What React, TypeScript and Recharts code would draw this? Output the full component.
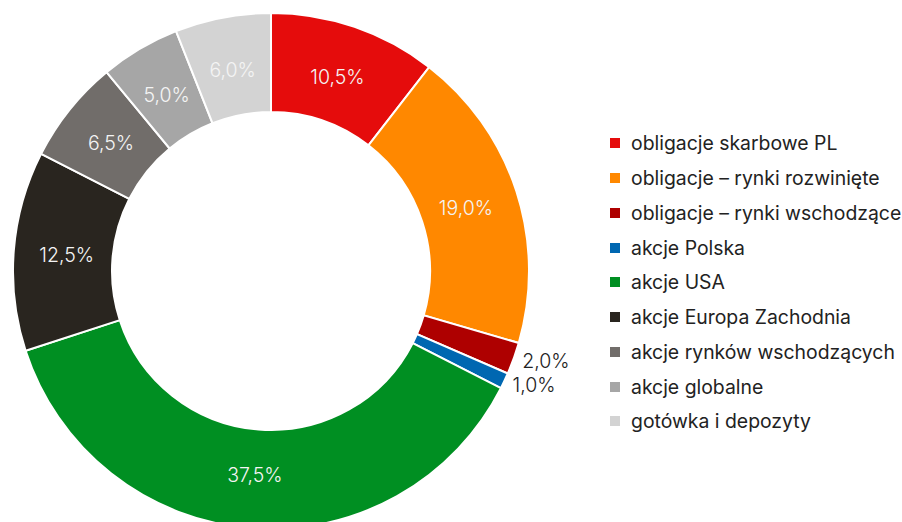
import React from "react";
import { PieChart, Pie, Cell } from "recharts";

const categories = [
  "obligacje skarbowe PL",
  "obligacje – rynki rozwinięte",
  "obligacje – rynki wschodzące",
  "akcje Polska",
  "akcje USA",
  "akcje Europa Zachodnia",
  "akcje rynków wschodzących",
  "akcje globalne",
  "gotówka i depozyty",
];
const shares = [10.5, 19.0, 2.0, 1.0, 37.5, 12.5, 6.5, 5.0, 6.0];
const colors = [
  "#E50C0C",
  "#FF8800",
  "#AE0000",
  "#0067B1",
  "#008F22",
  "#29251F",
  "#716D6A",
  "#A6A6A6",
  "#D3D3D3",
];
const outsideLabels = [false, false, true, true, false, false, false, false, false];

const data = categories.map((name, i) => ({ name, value: shares[i] }));
const RAD = Math.PI / 180;
const FONT = "Inter, 'Open Sans', sans-serif";

const fmt = (v: number) => v.toFixed(1).replace(".", ",") + "%";

const renderLabel = (p: any) => {
  const { cx, cy, midAngle, index, value } = p;
  const outside = outsideLabels[index];
  const r = outside ? 267 : 205;
  const x = cx + r * Math.cos(-midAngle * RAD);
  const y = cy + r * Math.sin(-midAngle * RAD);
  return (
    <text
      x={x}
      y={y}
      textAnchor={outside ? "start" : "middle"}
      dominantBaseline="central"
      fill={outside ? "#222222" : "#F4F4F4"}
      fontFamily={FONT}
      fontWeight={300}
      fontSize={19.5}
    >
      {fmt(value)}
    </text>
  );
};

export default function App() {
  return (
    <div style={{ position: "absolute", left: 0, top: 0, width: 902, height: 522, background: "#fff" }}>
      <PieChart width={902} height={522} margin={{ top: 0, right: 0, bottom: 0, left: 0 }}>
        <Pie
          data={data}
          dataKey="value"
          nameKey="name"
          cx={271}
          cy={271}
          innerRadius={159}
          outerRadius={258}
          startAngle={90}
          endAngle={-270}
          stroke="#ffffff"
          strokeWidth={2}
          label={renderLabel}
          labelLine={false}
          isAnimationActive={false}
        >
          {data.map((d, i) => (
            <Cell key={d.name} fill={colors[i]} />
          ))}
        </Pie>
      </PieChart>
      <div style={{ position: "absolute", left: 610, top: 126, fontFamily: FONT }}>
        {categories.map((c, i) => (
          <div key={c} style={{ display: "flex", alignItems: "center", height: 34.75 }}>
            <div style={{ width: 10, height: 10, background: colors[i], marginRight: 11 }} />
            <span style={{ fontSize: 19.4, color: "#222222", whiteSpace: "nowrap" }}>{c}</span>
          </div>
        ))}
      </div>
    </div>
  );
}
